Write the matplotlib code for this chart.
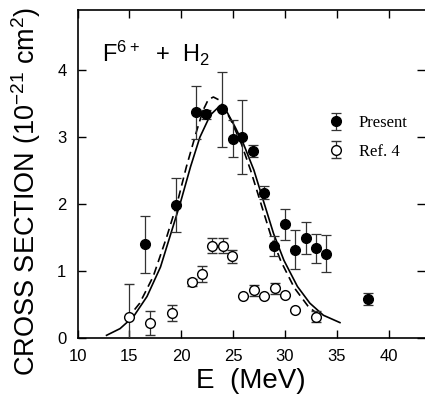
import matplotlib
matplotlib.use("Agg")
import matplotlib.pyplot as plt

# ---- data ----
present_E = [16.5, 19.5, 21.4, 22.4, 23.9, 25.0, 25.9, 26.9, 28.0, 28.9, 30.0, 31.0, 32.0, 33.0, 34.0, 38.0]
present_y = [1.40, 1.99, 3.37, 3.34, 3.42, 2.98, 3.00, 2.80, 2.17, 1.38, 1.70, 1.32, 1.50, 1.34, 1.26, 0.58]
present_err = [0.43, 0.40, 0.40, 0.07, 0.56, 0.27, 0.55, 0.09, 0.10, 0.15, 0.23, 0.29, 0.24, 0.22, 0.28, 0.09]

ref_E = [15.0, 17.0, 19.1, 21.0, 22.0, 23.0, 24.0, 24.9, 26.0, 27.0, 28.0, 29.0, 30.0, 31.0, 33.0]
ref_y = [0.32, 0.23, 0.37, 0.83, 0.95, 1.38, 1.38, 1.22, 0.62, 0.71, 0.62, 0.74, 0.64, 0.42, 0.32]
ref_err = [0.48, 0.18, 0.12, 0.05, 0.12, 0.11, 0.11, 0.10, 0.0, 0.08, 0.0, 0.08, 0.0, 0.0, 0.08]

solid_E = [12.8, 14.1, 15.4, 16.7, 18.0, 18.9, 19.9, 20.9, 21.8, 22.8, 23.6, 24.4, 25.2, 26.0, 27.0,
           27.9, 28.9, 29.9, 31.2, 32.4, 33.7, 35.3]
solid_y = [0.04, 0.14, 0.32, 0.62, 1.06, 1.51, 2.01, 2.56, 3.00, 3.33, 3.45, 3.38, 3.15, 2.90, 2.51,
           2.06, 1.56, 1.16, 0.77, 0.52, 0.34, 0.23]

dash_E = [14.7, 16.0, 17.3, 18.6, 19.6, 20.5, 21.5, 22.1, 22.6, 23.1, 23.6, 24.1, 24.8, 25.8, 26.7,
          27.6, 28.6, 29.6, 30.9, 32.2, 33.4]
dash_y = [0.27, 0.52, 0.92, 1.51, 2.01, 2.56, 3.10, 3.40, 3.56, 3.60, 3.56, 3.45, 3.25, 2.90, 2.50,
          2.05, 1.55, 1.15, 0.75, 0.48, 0.32]

x_ticks = [10, 15, 20, 25, 30, 35, 40]
y_ticks = [0, 1, 2, 3, 4]

SANS = ["Liberation Sans", "DejaVu Sans"]
plt.rcParams["font.family"] = SANS
plt.rcParams["mathtext.default"] = "regular"

fig = plt.figure(figsize=(4.25, 4.04), dpi=100)
ax = fig.add_axes([77.5 / 425, 1 - 338 / 404, 1 - 77.5 / 425, (338 - 10) / 404])

ax.plot(solid_E, solid_y, color="black", lw=1.2)
ax.plot(dash_E, dash_y, color="black", lw=1.2, ls=(0, (5, 3)))

ax.errorbar(present_E, present_y, yerr=present_err, fmt="o", ms=7, mfc="black", mec="black",
            ecolor="#333333", elinewidth=0.9, capsize=3.5, capthick=0.9, label="Present", zorder=3)
ax.errorbar(ref_E, ref_y, yerr=ref_err, fmt="o", ms=7, mfc="white", mec="black", mew=1.0,
            ecolor="#333333", elinewidth=0.9, capsize=3.5, capthick=0.9, label="Ref. 4", zorder=3)

ax.set_xlim(10, 43.5)
ax.set_ylim(0, 4.9)
ax.set_xticks(x_ticks)
ax.set_yticks(y_ticks)
ax.tick_params(direction="in", top=True, right=True, length=6, width=1, labelsize=12, pad=8)
for s in ["left", "bottom", "top"]:
    ax.spines[s].set_linewidth(1.2)
ax.spines["right"].set_visible(False)

ax.set_xlabel("E  (MeV)", fontsize=20, labelpad=3)
ax.set_ylabel("CROSS SECTION (10$^{-21}$ cm$^2$)", fontsize=19.5)
ax.yaxis.set_label_coords(-0.10, 0.448)

ax.text(12.4, 4.12, "F$^{6+}$  +  H$_2$", fontsize=17, ha="left", va="baseline")

leg = ax.legend(loc="upper left", bbox_to_anchor=(0.69, 0.705), frameon=False,
                prop={"family": "Liberation Serif", "size": 12}, handlelength=1.2,
                handletextpad=0.8, labelspacing=0.75, borderpad=0)

fig.savefig("out.png", dpi=100)
